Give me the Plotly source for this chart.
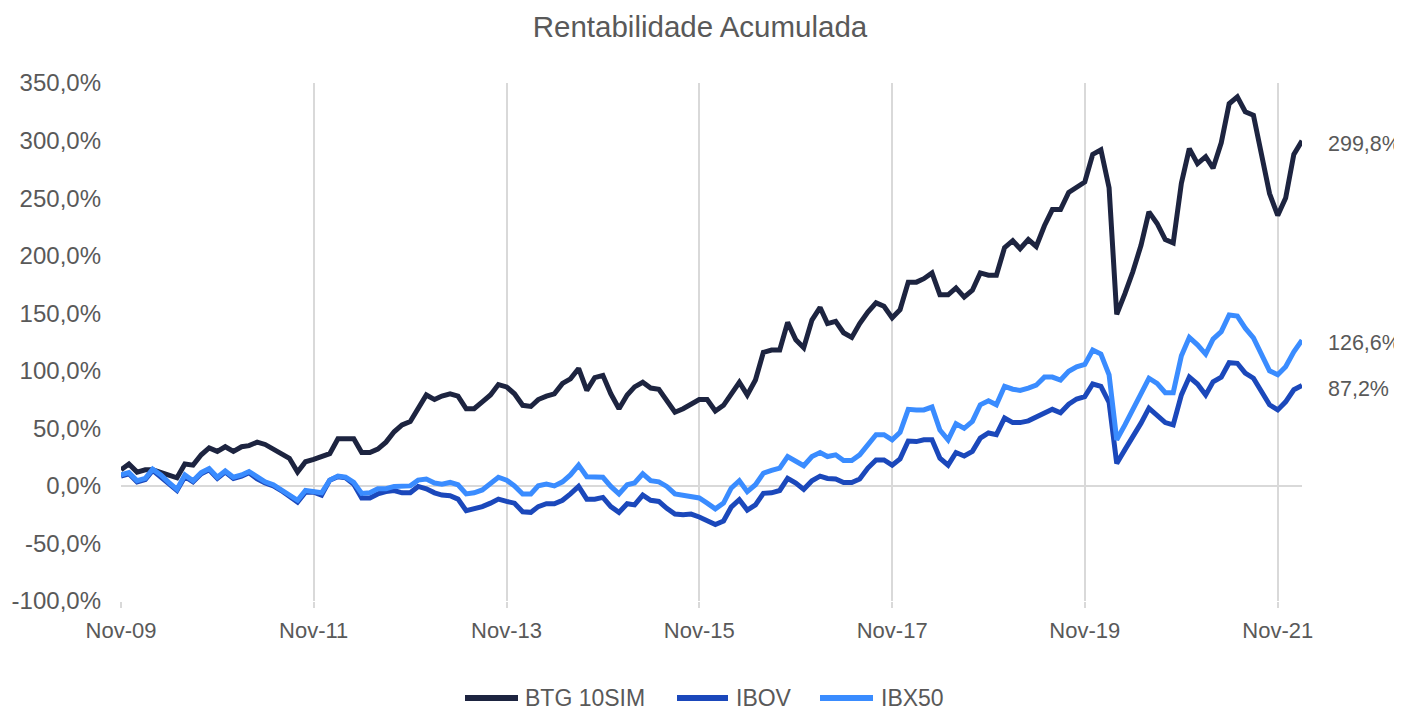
import pandas as pd
import plotly.graph_objects as go

# ---- data (monthly, Nov-09 .. Feb-22) ----
dates = pd.date_range("2009-11-01", periods=148, freq="MS")

btg = [14, 19, 12, 14, 14, 12, 9, 7, 19, 18, 27, 33, 30, 34, 30, 34, 35, 38, 36, 32, 27, 24, 12, 21, 23,
       25, 28, 41, 41, 41, 29, 29, 32, 38, 47, 53, 56, 67, 79, 75, 78, 80, 78, 67, 67, 73, 79, 88, 86, 80,
       70, 69, 75, 78, 80, 89, 93, 102, 83, 94, 96, 80, 67, 79, 86, 90, 85, 84, 75, 64, 67, 71, 75, 75, 65,
       70, 79, 90, 79, 92, 116, 118, 118, 142, 127, 120, 144, 155, 141, 143, 133, 129, 141, 151, 159, 156, 146, 153, 177,
       177, 180, 185, 166, 166, 172, 164, 170, 185, 183, 183, 207, 213, 206, 214, 208, 226, 240, 240, 255, 260, 264, 288, 292, 259,
       149, 167, 186, 209, 238, 228, 214, 211, 263, 293, 280, 286, 276, 298, 332, 338, 325, 322, 289, 254, 235, 250, 288, 299.8]

ibov = [8.5, 10.5, 3.5, 5.5, 13.5, 8, 1.5, -4, 8, 3.5, 10.5, 14, 6.5, 12, 6.5, 8.5, 11.5, 6, 2.5, 0, -4, -9, -14, -5.5, -5.5,
        -8, 5, 8, 7, 1.5, -10.5, -10.5, -7, -5, -4, -6, -6, -0.5, -2.5, -6, -8, -8.5, -11.5, -21.5, -20, -18, -15, -11.5, -13.5, -15,
        -22.5, -23, -18, -15.5, -15.5, -12.5, -7, -0.5, -11.5, -11.5, -10, -18, -23, -15.5, -16.5, -8, -12.5, -13.5, -19.5, -24.5, -25, -24.5, -27, -30, -33.5,
        -30.5, -18.5, -12, -21, -16.5, -6.5, -6, -4, 6.5, 2.5, -3, 4.5, 8.5, 6.5, 6, 3, 3, 6, 15.5, 22.5, 22.5, 18, 23.5, 39,
        38.5, 40, 40, 24, 18, 29, 26, 30, 41.5, 46, 44.5, 59, 55, 55, 56.5, 59.5, 63.5, 66.5, 63.5, 71, 75.5, 77.5, 88.5, 86.5, 72.5,
        19.5, 31.5, 42.5, 54.5, 67.5, 61.5, 55, 53, 79, 94.5, 88.5, 79, 90.5, 94.5, 107, 106.5, 98, 93.5, 82, 70.5, 66, 73, 83.5, 87.2]

ibx50 = [9.5, 11.5, 4.5, 6.5, 14.5, 9.5, 3, -3, 9.5, 4.5, 11.5, 15, 7.5, 13, 7.5, 9.5, 12.5, 7.5, 3.5, 1, -3, -8, -12.5, -4, -4.5,
         -6, 5, 8.5, 7.5, 3, -6.5, -6, -2.5, -2.5, -0.5, 0, 0, 5, 6, 2.5, 1.5, 3, 1, -7, -6, -3.5, 1.5, 7.5, 5, 0,
         -7, -7, 0, 1.5, 0, 3.5, 9.5, 18, 8, 8, 7.5, -0.5, -7, 1, 2.5, 10.5, 4.5, 3.5, -0.5, -7, -8.5, -9.5, -10.5, -15, -20,
         -15, -2, 4.5, -5, 1, 11, 13.5, 15.5, 25.5, 21, 17.5, 25.5, 29, 25.5, 27, 22, 22, 27, 35.5, 44.5, 44.5, 40, 46.5, 66.5,
         66, 66, 68.5, 48.5, 40, 54, 50, 56, 70.5, 74, 70.5, 86.5, 84, 83, 85, 87.5, 94.5, 94.5, 92, 99.5, 103.5, 105.5, 118, 114.5, 96.5,
         40, 53, 66, 79, 93.5, 89, 81, 81, 113, 129, 122.5, 114.5, 127.5, 134, 148.5, 147.5, 137, 128.5, 114, 100, 96.5, 103.5, 116.5, 126.6]

series_names = ["BTG 10SIM", "IBOV", "IBX50"]
tick_dates = ["2009-11-01", "2011-11-01", "2013-11-01", "2015-11-01", "2017-11-01", "2019-11-01", "2021-11-01"]
tick_text = ["Nov-09", "Nov-11", "Nov-13", "Nov-15", "Nov-17", "Nov-19", "Nov-21"]
y_ticks = [-100, -50, 0, 50, 100, 150, 200, 250, 300, 350]
y_text = ["-100,0%", "-50,0%", "0,0%", "50,0%", "100,0%", "150,0%", "200,0%", "250,0%", "300,0%", "350,0%"]
end_labels = ["299,8%", "126,6%", "87,2%"]

colors = ["#1d2440", "#1b48bb", "#3a8cff"]
FONT = "Liberation Sans, Arial, sans-serif"
GRAY = "#595959"

W, H = 1394, 703  # page body has an 8px margin
L, R, T, B = 113, 100, 75, 110
PW, PH = W - L - R, H - T - B


def px_to_paper_x(px):
    return (px - 8 - L) / PW


def px_to_paper_y(py):
    return (H - B - (py - 8)) / PH


fig = go.Figure()
for name, vals, col in zip(series_names, [btg, ibov, ibx50], colors):
    n = min(len(dates), len(vals))
    fig.add_trace(go.Scatter(x=dates[:n], y=vals[:n], name=name, mode="lines",
                             line=dict(color=col, width=5), showlegend=False))

# end labels
for vals, lab in zip([btg, ibx50, ibov], end_labels):
    fig.add_annotation(x=dates[len(vals) - 1], y=vals[-1], text=lab, showarrow=False,
                       xanchor="left", yanchor="middle", xshift=24, yshift=-3,
                       font=dict(family=FONT, size=21.5, color=GRAY))

# legend drawn as key lines + text
legend_line_x = [(463, 520), (675, 730), (818, 875)]
legend_text_x = [523, 734, 879]
leg_y = 698
for (x0, x1), tx, name, col in zip(legend_line_x, legend_text_x, series_names, colors):
    fig.add_shape(type="line", xref="paper", yref="paper",
                  x0=px_to_paper_x(x0 + 2), x1=px_to_paper_x(x1 - 2),
                  y0=px_to_paper_y(leg_y), y1=px_to_paper_y(leg_y),
                  line=dict(color=col, width=6))
    fig.add_annotation(xref="paper", yref="paper", x=px_to_paper_x(tx), y=px_to_paper_y(leg_y),
                       text=name, showarrow=False, xanchor="left", yanchor="middle",
                       font=dict(family=FONT, size=23, color=GRAY))

fig.update_layout(
    width=W, height=H,
    margin=dict(l=L, r=R, t=T, b=B, autoexpand=False),
    paper_bgcolor="white", plot_bgcolor="white",
    title=dict(text="Rentabilidade Acumulada", x=692 / W, xref="container", xanchor="center",
               y=1 - 19 / H, yref="container", yanchor="middle",
               font=dict(family=FONT, size=29.5, color=GRAY)),
    showlegend=False,
)

fig.update_xaxes(range=[dates[0], dates[-1]], tickvals=tick_dates, ticktext=tick_text,
                 automargin=False,
                 showgrid=True, gridcolor="#d9d9d9", gridwidth=2,
                 showline=False, zeroline=False,
                 ticks="outside", ticklen=6, tickcolor="#d9d9d9", tickwidth=2,
                 ticklabelstandoff=4,
                 tickfont=dict(family=FONT, size=22, color=GRAY))

fig.update_yaxes(range=[-100, 350], tickvals=y_ticks, ticktext=y_text,
                 automargin=False,
                 showgrid=False, zeroline=True, zerolinecolor="#d9d9d9", zerolinewidth=2,
                 showline=False, ticklabelstandoff=19,
                 tickfont=dict(family=FONT, size=24, color=GRAY))

fig.write_html("out.html")
